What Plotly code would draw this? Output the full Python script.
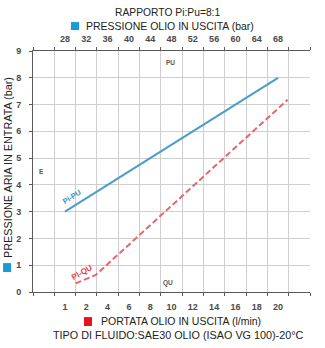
import numpy as np
import plotly.graph_objects as go

# ---- data ----
pressure_ticks = [28, 32, 36, 40, 44, 48, 52, 56, 60, 64, 68]          # top axis (bar)
flow_ticks = [1, 2, 4, 6, 8, 10, 12, 14, 16, 18, 20]                   # bottom axis (l/min)
y_ticks = [0, 1, 2, 3, 4, 5, 6, 7, 8, 9]

# Pi-PU : outlet oil pressure (bar) vs inlet air pressure (bar)
pipu_pressure = [28, 68]
pipu_air = [3.0, 8.0]

# Pi-QU : outlet oil flow (l/min) vs inlet air pressure (bar)
piqu_flow = [1.5, 2.9, 20.9]
piqu_air = [0.32, 0.64, 7.18]


def flow_to_pos(f):
    """Map a flow value onto the (non-linear) bottom scale, extrapolating the end segments."""
    f = np.asarray(f, dtype=float)
    pos = np.interp(f, flow_ticks, pressure_ticks)
    hi = f > flow_ticks[-1]
    slope_hi = (pressure_ticks[-1] - pressure_ticks[-2]) / (flow_ticks[-1] - flow_ticks[-2])
    pos[hi] = pressure_ticks[-1] + (f[hi] - flow_ticks[-1]) * slope_hi
    return pos


XR = [22, 74]
GRID = "#cfcfcf"
AX = "#5a5a5a"
TXT = "#222222"
TICKFONT = dict(family="Liberation Sans Narrow, Liberation Sans, Arial", size=9, color="#4a4a4a", weight="bold")

fig = go.Figure()
fig.add_trace(go.Scatter(
    x=pipu_pressure, y=pipu_air, xaxis="x2", yaxis="y", mode="lines",
    line=dict(color="#4a9ccb", width=2), hoverinfo="skip", showlegend=False))
fig.add_trace(go.Scatter(
    x=flow_to_pos(piqu_flow), y=piqu_air, xaxis="x", yaxis="y", mode="lines",
    line=dict(color="#e9646e", width=2, dash="6px,3px"), hoverinfo="skip", showlegend=False))

fig.update_layout(
    width=325, height=348,
    margin=dict(l=33, r=15, t=51, b=56),
    paper_bgcolor="white", plot_bgcolor="white",
    font=dict(family="Liberation Sans, Arial", color=TXT),
    xaxis=dict(
        range=XR, tickmode="array", tickvals=pressure_ticks, ticktext=[str(v) for v in flow_ticks],
        showgrid=False, ticks="", tickfont=TICKFONT, showline=True, linecolor=AX, linewidth=1,
        zeroline=False, ticklabelstandoff=6,
        minor=dict(tickmode="linear", tick0=22, dtick=4, showgrid=True, gridcolor=GRID, gridwidth=1,
                   ticks="outside", ticklen=3, tickcolor=AX),
    ),
    xaxis2=dict(
        range=XR, overlaying="x", side="top", tickmode="array", tickvals=pressure_ticks,
        ticktext=[str(v) for v in pressure_ticks], showgrid=False, ticks="", tickfont=TICKFONT,
        showline=True, linecolor=AX, linewidth=1, zeroline=False, ticklabelstandoff=4,
        minor=dict(tickmode="linear", tick0=22, dtick=4, ticks="outside", ticklen=3, tickcolor=AX),
    ),
    yaxis=dict(
        range=[0, 9], tickmode="array", tickvals=y_ticks, showgrid=True, gridcolor=GRID,
        ticks="outside", ticklen=3, tickcolor=AX, tickfont=TICKFONT, showline=True,
        linecolor=AX, linewidth=1, zeroline=False, ticklabelstandoff=6,
    ),
)

ann = []
def pa(text, x, y, size=10.5, color=TXT, **kw):
    ann.append(dict(text=text, x=x, y=y, xref="paper", yref="paper", showarrow=False,
                    font=dict(size=size, color=color), xanchor="center", yanchor="middle", **kw))

pa("RAPPORTO Pi:Pu=8:1", 0.487, 1.158, size=10.3)
pa("PRESSIONE OLIO IN USCITA (bar)", 0.494, 1.104)
pa("PORTATA OLIO IN USCITA (l/min)", 0.535, -0.120)
pa("TIPO DI FLUIDO:SAE30 OLIO (ISAO VG 100)-20°C", 0.525, -0.178, size=10.8)
pa("PRESSIONE ARIA IN ENTRATA (bar)", -0.090, 0.515, size=10.8, textangle=-90)
pa("<b>PU</b>", 0.498, 0.954, size=6.5, color="#555555")
pa("<b>QU</b>", 0.487, 0.037, size=6.5, color="#555555")
pa("<b>E</b>", 0.029, 0.502, size=6.5, color="#555555")
ann.append(dict(text="<b>Pi-PU</b>", x=29.4, y=3.55, xref="x", yref="y", showarrow=False,
                textangle=-32, font=dict(size=7.5, color="#3a8fc0")))
ann.append(dict(text="<b>Pl-QU</b>", x=31.2, y=0.72, xref="x", yref="y", showarrow=False,
                textangle=-30, font=dict(size=8, color="#e8404a")))
fig.update_layout(annotations=ann)

shapes = [
    dict(type="rect", xref="paper", yref="paper", x0=0.137, x1=0.166, y0=1.087, y1=1.120,
         fillcolor="#1a9ad6", line_width=0),
    dict(type="rect", xref="paper", yref="paper", x0=0.184, x1=0.213, y0=-0.141, y1=-0.104,
         fillcolor="#e8141b", line_width=0),
    dict(type="rect", xref="paper", yref="paper", x0=-0.108, x1=-0.079, y0=0.083, y1=0.120,
         fillcolor="#1a9ad6", line_width=0),
]
fig.update_layout(shapes=shapes)

fig.write_html("out.html")
